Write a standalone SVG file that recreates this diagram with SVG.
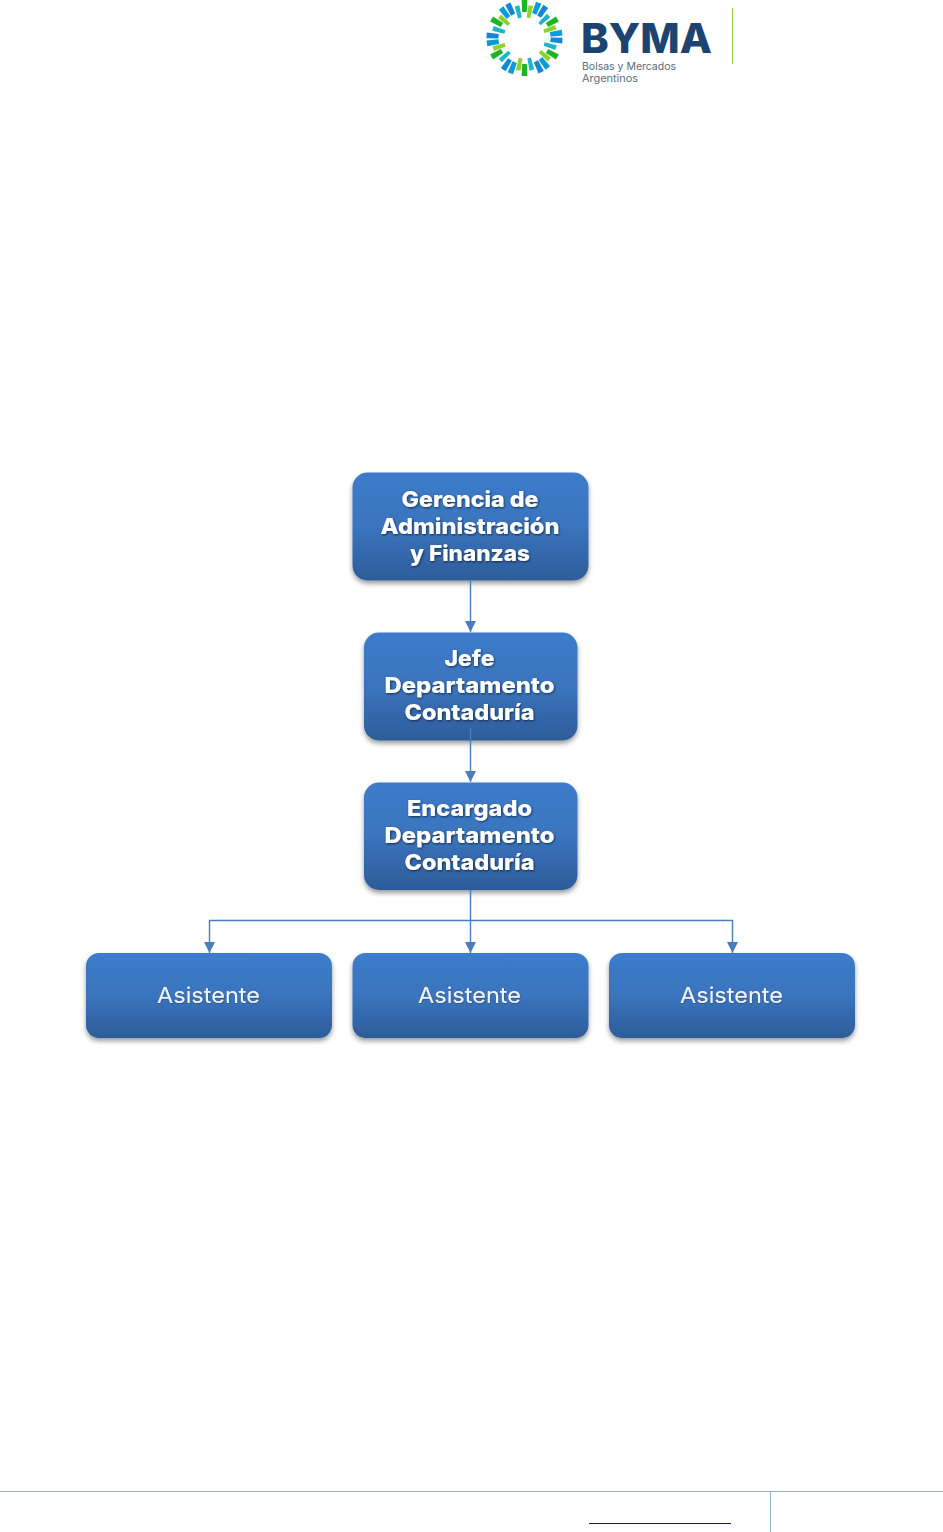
<svg xmlns="http://www.w3.org/2000/svg" width="943" height="1532" viewBox="0 0 943 1532">
<style>
.t{font-family:"Inter","Liberation Sans",sans-serif;fill:#fff;text-anchor:middle}
.b{font-size:22px;font-weight:800;filter:url(#ts)}
.n{font-size:22px;font-weight:400;fill:#f2f5fa;filter:url(#ts2)}
.box{fill:url(#g);filter:url(#ds)}
.c{fill:none;stroke:#4a7ebb;stroke-width:1.4}
.lg{font-family:"Inter","Liberation Sans",sans-serif;font-size:10.5px;fill:#5a6b7d}
.bl{fill:#0f9bd7}.bd{fill:#1485d2}.gr{fill:#1fb52a}.lt{fill:#8fd12a}.te{fill:#1db6c9}
</style>
<defs>
<linearGradient id="g" x1="0" y1="0" x2="0" y2="1"><stop offset="0" stop-color="#3c7ccb"/><stop offset=".5" stop-color="#3a74bd"/><stop offset="1" stop-color="#2d5c9a"/></linearGradient>
<filter id="ds" x="-10%" y="-10%" width="120%" height="125%"><feDropShadow dx="0" dy="3" stdDeviation="2.6" flood-color="#000" flood-opacity=".4"/></filter>
<filter id="ts" x="-10%" y="-20%" width="120%" height="140%"><feDropShadow dx="0.8" dy="1" stdDeviation="0.9" flood-color="#000" flood-opacity=".6"/></filter>
<filter id="ts2" x="-10%" y="-20%" width="120%" height="140%"><feDropShadow dx="0.4" dy="0.6" stdDeviation="0.5" flood-color="#000" flood-opacity=".35"/></filter>
<filter id="soft"><feGaussianBlur stdDeviation="0.35"/></filter>
<marker id="a" markerUnits="userSpaceOnUse" markerWidth="12" markerHeight="11" refX="11" refY="5.500" orient="auto"><path d="M0 0L11 5.500L0 11z" fill="#4a7ebb"/></marker>
<path id="o" d="M-2.900 -38L2.900 -38L2.300 -26L-2.300 -26z"/>
<path id="i" d="M-2.400 -33L2.400 -33L1.800 -20.500L-1.800 -20.500z"/>
<g id="u">
<use href="#i" class="lt" transform="rotate(11)"/>
<use href="#i" class="te" transform="rotate(47)"/>
<use href="#o" class="gr" transform="rotate(0)"/>
<use href="#o" class="bl" transform="rotate(22)"/>
<use href="#o" class="bd" transform="rotate(34)"/>
</g>
</defs>
<rect width="943" height="1532" fill="#fff"/>
<g id="logo">
<g transform="translate(524.500 38)" filter="url(#soft)">
<use href="#u"/><use href="#u" transform="rotate(60)"/><use href="#u" transform="rotate(120)"/><use href="#u" transform="rotate(180)"/><use href="#u" transform="rotate(240)"/><use href="#u" transform="rotate(300)"/>
</g>
<text x="581" y="53" font-family="Inter,'Liberation Sans',sans-serif" font-size="41" font-weight="800" fill="#1d4370" textLength="131" lengthAdjust="spacingAndGlyphs">BYMA</text>
<text class="lg" x="582" y="70" textLength="94" lengthAdjust="spacingAndGlyphs">Bolsas y Mercados</text>
<text class="lg" x="582" y="82" textLength="56" lengthAdjust="spacingAndGlyphs">Argentinos</text>
<rect x="732" y="8" width="1" height="56" fill="#8ccb3a"/>
</g>
<g id="n1"><rect class="box" x="352.500" y="472.500" width="236" height="108" rx="15"/>
<text class="t b" x="470" y="507" textLength="137" lengthAdjust="spacingAndGlyphs">Gerencia de</text><text class="t b" x="470" y="534" textLength="179" lengthAdjust="spacingAndGlyphs">Administración</text><text class="t b" x="470" y="561" textLength="120" lengthAdjust="spacingAndGlyphs">y Finanzas</text></g>
<g id="n2"><rect class="box" x="364" y="632.500" width="213.500" height="108" rx="15"/>
<text class="t b" x="469.500" y="666" textLength="50" lengthAdjust="spacingAndGlyphs">Jefe</text><text class="t b" x="469.500" y="693" textLength="170" lengthAdjust="spacingAndGlyphs">Departamento</text><text class="t b" x="469.500" y="720" textLength="130" lengthAdjust="spacingAndGlyphs">Contaduría</text></g>
<g id="n3"><rect class="box" x="364" y="782.500" width="213.500" height="107.500" rx="15"/>
<text class="t b" x="469.500" y="816" textLength="125" lengthAdjust="spacingAndGlyphs">Encargado</text><text class="t b" x="469.500" y="843" textLength="170" lengthAdjust="spacingAndGlyphs">Departamento</text><text class="t b" x="469.500" y="870" textLength="130" lengthAdjust="spacingAndGlyphs">Contaduría</text></g>
<g id="n4"><rect class="box" x="86" y="953" width="246" height="85" rx="13"/><text class="t n" x="208.500" y="1003" textLength="103" lengthAdjust="spacingAndGlyphs">Asistente</text></g>
<g id="n5"><rect class="box" x="352.500" y="953" width="236" height="85" rx="13"/><text class="t n" x="469.500" y="1003" textLength="103" lengthAdjust="spacingAndGlyphs">Asistente</text></g>
<g id="n6"><rect class="box" x="609" y="953" width="246" height="85" rx="13"/><text class="t n" x="731.500" y="1003" textLength="103" lengthAdjust="spacingAndGlyphs">Asistente</text></g>
<g id="connectors">
<path class="c" d="M470.500 581V632" marker-end="url(#a)"/>
<path class="c" d="M470.500 728V782" marker-end="url(#a)"/>
<path class="c" d="M470.500 890V953" marker-end="url(#a)"/>
<path class="c" d="M470.500 920.500H209.500V953" marker-end="url(#a)"/>
<path class="c" d="M470.500 920.500H732.500V953" marker-end="url(#a)"/>
</g>
<g id="footer">
<rect x="0" y="1491" width="943" height="1" fill="#95b3d7"/>
<rect x="770" y="1492" width="1" height="40" fill="#95b3d7"/>
<rect x="589" y="1523" width="142" height="1" fill="#0000d8"/>
</g>
</svg>
